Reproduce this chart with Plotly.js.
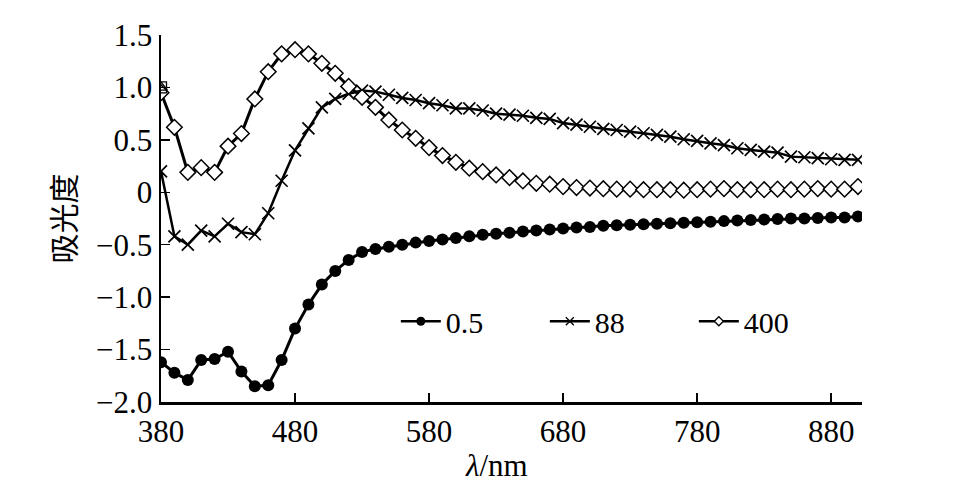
<!DOCTYPE html>
<html>
<head>
<meta charset="utf-8">
<script src="https://cdn.plot.ly/plotly-3.0.1.min.js"></script>
<style>
  html, body { margin: 0; padding: 0; background: #fff; }
  #myDiv { width: 959px; height: 482px; }
</style>
</head>
<body>
<div id="myDiv"></div>
<script>
// wavelength, nm
var wavelength = [380, 390, 400, 410, 420, 430, 440, 450, 460, 470, 480, 490, 500, 510, 520, 530, 540, 550,
    560, 570, 580, 590, 600, 610, 620, 630, 640, 650, 660, 670, 680, 690, 700, 710, 720, 730, 740, 750,
    760, 770, 780, 790, 800, 810, 820, 830, 840, 850, 860, 870, 880, 890, 900];

var abs05 = [-1.62, -1.72, -1.79, -1.60, -1.59, -1.52, -1.71, -1.85, -1.84, -1.60, -1.30, -1.07, -0.88, -0.75, -0.645, -0.57, -0.54, -0.52,
    -0.50, -0.48, -0.465, -0.45, -0.435, -0.42, -0.405, -0.395, -0.385, -0.375, -0.365, -0.355, -0.345, -0.335, -0.33, -0.32, -0.315, -0.31, -0.305, -0.30,
    -0.295, -0.29, -0.285, -0.28, -0.275, -0.27, -0.265, -0.26, -0.255, -0.25, -0.25, -0.245, -0.24, -0.24, -0.23];

var abs88 = [0.20, -0.42, -0.50, -0.365, -0.42, -0.30, -0.38, -0.40, -0.20, 0.11, 0.40, 0.61, 0.81, 0.89, 0.94, 0.97, 0.96, 0.93,
    0.90, 0.88, 0.85, 0.83, 0.80, 0.80, 0.78, 0.75, 0.74, 0.73, 0.71, 0.70, 0.66, 0.645, 0.625, 0.605, 0.594, 0.578, 0.563, 0.547,
    0.53, 0.506, 0.49, 0.467, 0.45, 0.42, 0.404, 0.388, 0.378, 0.34, 0.334, 0.325, 0.315, 0.31, 0.31];

var abs400 = [0.95, 0.62, 0.19, 0.235, 0.19, 0.44, 0.56, 0.89, 1.15, 1.32, 1.36, 1.32, 1.23, 1.135, 1.01, 0.906, 0.81, 0.69,
    0.594, 0.515, 0.426, 0.35, 0.286, 0.23, 0.197, 0.165, 0.14, 0.108, 0.086, 0.077, 0.054, 0.045, 0.04, 0.034, 0.03, 0.03, 0.025, 0.025,
    0.025, 0.02, 0.025, 0.03, 0.035, 0.025, 0.025, 0.025, 0.03, 0.025, 0.03, 0.035, 0.03, 0.03, 0.055];

// stray start markers at 380 nm (square and triangle)
var strayX = [380, 380];
var strayY = [1.0, 1.0];
var straySymbols = ['square-open', 'triangle-up-open'];

var seriesNames = ['0.5', '88', '400'];

var xTicks = [380, 480, 580, 680, 780, 880];
var yTicks = [-2.0, -1.5, -1.0, -0.5, 0, 0.5, 1.0, 1.5];
var yTickText = ['\u22122.0', '\u22121.5', '\u22121.0', '\u22120.5', '0', '0.5', '1.0', '1.5'];

var serif = 'Liberation Serif, Times New Roman, serif';

var styles = [
    {line: {color: 'black', width: 3}, marker: {symbol: 'circle', size: 12, color: 'black'}},
    {line: {color: 'black', width: 2.5}, marker: {symbol: 'x-thin-open', size: 12, color: 'black', line: {color: 'black', width: 1.7}}},
    {line: {color: 'black', width: 3}, marker: {symbol: 'diamond', size: 12, color: 'white', line: {color: 'black', width: 1.5}}}
];
// smaller markers for the legend keys
var legendStyles = [
    {line: {color: 'black', width: 2.5}, marker: {symbol: 'circle', size: 9, color: 'black'}},
    {line: {color: 'black', width: 2.5}, marker: {symbol: 'x-thin-open', size: 8, color: 'black', line: {color: 'black', width: 1.3}}},
    {line: {color: 'black', width: 2.5}, marker: {symbol: 'diamond', size: 7, color: 'white', line: {color: 'black', width: 1.3}}}
];
var values = [abs05, abs88, abs400];

var data = [];
for (var i = 0; i < 3; i++) {
    data.push({
        type: 'scatter',
        mode: 'lines+markers',
        name: seriesNames[i],
        x: wavelength,
        y: values[i],
        line: styles[i].line,
        marker: styles[i].marker,
        showlegend: false
    });
}
for (var j = 0; j < 3; j++) {
    data.push({
        type: 'scatter',
        mode: 'lines+markers',
        name: seriesNames[j],
        x: [null],
        y: [null],
        line: legendStyles[j].line,
        marker: legendStyles[j].marker,
        hoverinfo: 'skip'
    });
}
data.push({
    type: 'scatter',
    mode: 'markers',
    x: strayX,
    y: strayY,
    showlegend: false,
    hoverinfo: 'skip',
    marker: {symbol: straySymbols, size: 11, color: 'black', line: {width: 1.3}}
});

var layout = {
    width: 959,
    height: 482,
    margin: {l: 161, r: 97, t: 35, b: 80},
    paper_bgcolor: 'white',
    plot_bgcolor: 'white',
    font: {family: serif, size: 31, color: 'black'},
    showlegend: true,
    legend: {
        orientation: 'h',
        x: 0.335,
        y: 0.22,
        xanchor: 'left',
        yanchor: 'middle',
        bgcolor: 'rgba(0,0,0,0)',
        font: {family: serif, size: 30, color: 'black'},
        itemwidth: 40,
        entrywidth: 94,
        entrywidthmode: 'pixels'
    },
    xaxis: {
        range: [380, 903],
        tickvals: xTicks,
        ticktext: xTicks.map(String),
        ticks: 'inside',
        ticklen: 9,
        tickwidth: 1.5,
        tickcolor: 'black',
        showline: true,
        linecolor: 'black',
        linewidth: 2.5,
        showgrid: false,
        zeroline: false,
        tickfont: {family: serif, size: 31}
    },
    yaxis: {
        range: [-2.0, 1.5],
        tickvals: yTicks,
        ticktext: yTickText,
        ticks: 'inside',
        ticklen: 9,
        tickwidth: 1.5,
        tickcolor: 'black',
        showline: true,
        linecolor: 'black',
        linewidth: 2.5,
        showgrid: false,
        zeroline: false,
        tickfont: {family: serif, size: 31},
        title: {text: '吸光度', font: {family: 'Noto Sans CJK SC', size: 30}, standoff: 12}
    },
    annotations: [{
        text: '<i>\u03bb</i>/nm',
        xref: 'paper',
        yref: 'paper',
        x: 0.479,
        y: -0.172,
        xanchor: 'center',
        yanchor: 'middle',
        showarrow: false,
        font: {family: serif, size: 31}
    }]
};

Plotly.newPlot('myDiv', data, layout, {displayModeBar: false, staticPlot: true});
</script>
</body>
</html>
